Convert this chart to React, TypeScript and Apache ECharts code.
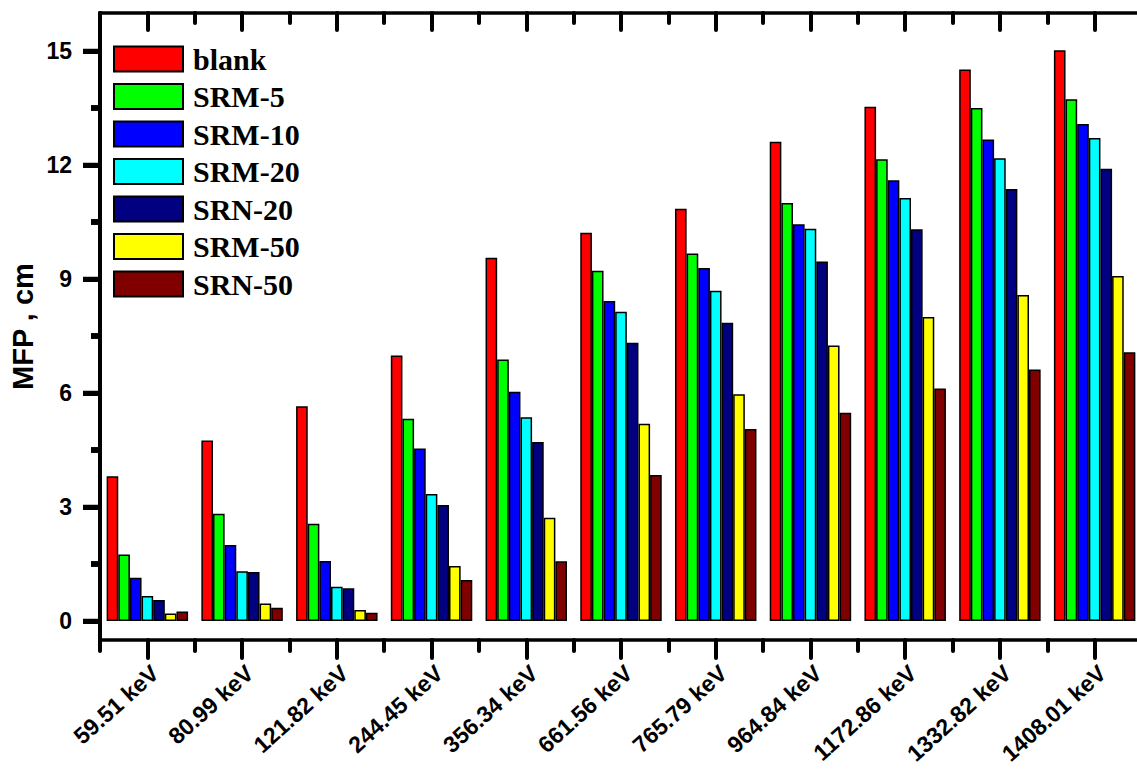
import React, { useEffect, useRef } from "react";
import * as echarts from "echarts";

const categories = [
  "59.51 keV", "80.99 keV", "121.82 keV", "244.45 keV", "356.34 keV", "661.56 keV",
  "765.79 keV", "964.84 keV", "1172.86 keV", "1332.82 keV", "1408.01 keV",
];

const seriesNames = ["blank", "SRM-5", "SRM-10", "SRM-20", "SRN-20", "SRM-50", "SRN-50"];
const seriesColors = ["#FF0000", "#00FF00", "#0000FF", "#00FFFF", "#000080", "#FFFF00", "#800000"];

const blank = [3.81, 4.75, 5.65, 6.99, 9.56, 10.22, 10.85, 12.61, 13.53, 14.51, 15.02];
const srm5 = [1.75, 2.82, 2.56, 5.32, 6.88, 9.22, 9.67, 11.0, 12.15, 13.5, 13.73];
const srm10 = [1.14, 2.0, 1.58, 4.54, 6.03, 8.42, 9.29, 10.44, 11.6, 12.67, 13.08];
const srm20 = [0.66, 1.31, 0.9, 3.34, 5.36, 8.14, 8.69, 10.32, 11.13, 12.18, 12.71];
const srn20 = [0.55, 1.29, 0.86, 3.05, 4.71, 7.32, 7.85, 9.46, 10.31, 11.37, 11.9];
const srm50 = [0.2, 0.46, 0.29, 1.45, 2.72, 5.19, 5.97, 7.25, 8.0, 8.58, 9.08];
const srn50 = [0.25, 0.35, 0.22, 1.08, 1.57, 3.84, 5.05, 5.48, 6.12, 6.62, 7.07];

const Y_MIN = -0.5;
const Y_MAX = 16;
const Y_STEP = 0.5;
const yMajorTicks = [0, 3, 6, 9, 12, 15];
const yMinorTicks = [1.5, 4.5, 7.5, 10.5, 13.5];

const seriesData = [blank, srm5, srm10, srm20, srn20, srm50, srn50];

// slots along the y range (one every Y_STEP), used only to place tick marks
const ySlots: string[] = [];
for (let v = Y_MIN; v <= Y_MAX + 1e-9; v += Y_STEP) ySlots.push(String(Math.round(v * 10) / 10));

const GRID_LEFT = 100;

export default function App() {
  const ref = useRef<HTMLDivElement>(null);
  useEffect(() => {
    if (!ref.current) return;
    const chart = echarts.init(ref.current, null, { renderer: "svg" });
    const lineStyle = () => ({ color: "#000", width: 3.5 });
    const tickStyle = () => ({ color: "#000", width: 4, cap: "round" });
    const isIn = (list: number[]) => (_i: number, val: string) => list.indexOf(Number(val)) >= 0;
    const option: any = {
      animation: false,
      backgroundColor: "#fff",
      grid: {
        left: GRID_LEFT,
        top: 13,
        width: 1042,
        height: 627,
        containLabel: false,
        outerBoundsMode: "none",
      },
      legend: {
        left: 108,
        top: 39,
        orient: "vertical",
        itemWidth: 69,
        itemHeight: 25,
        itemGap: 7.5,
        icon: "rect",
        data: seriesNames,
        textStyle: {
          fontFamily: "Liberation Serif",
          fontWeight: "bold",
          fontSize: 30,
          color: "#000",
          padding: [0, 0, 0, 5],
        },
      },
      xAxis: [
        {
          type: "category",
          data: categories,
          position: "bottom",
          axisLine: { show: true, onZero: false, lineStyle: lineStyle() },
          axisTick: { show: true, alignWithLabel: true, interval: 0, length: 18, lineStyle: tickStyle() },
          axisLabel: {
            interval: 0,
            rotate: 42,
            margin: 21,
            align: "right",
            verticalAlign: "top",
            fontFamily: "Liberation Sans",
            fontWeight: "bold",
            fontSize: 23,
            color: "#000",
          },
          splitLine: { show: false },
        },
        {
          type: "category",
          data: categories,
          position: "bottom",
          axisLine: { show: false, onZero: false },
          axisTick: { show: true, interval: 0, length: 11, lineStyle: tickStyle() },
          axisLabel: { show: false },
          splitLine: { show: false },
        },
        {
          type: "category",
          data: categories,
          position: "top",
          axisLine: { show: true, onZero: false, lineStyle: lineStyle() },
          axisTick: { show: true, inside: true, alignWithLabel: true, interval: 0, length: 17, lineStyle: tickStyle() },
          axisLabel: { show: false },
          splitLine: { show: false },
        },
        {
          type: "category",
          data: categories,
          position: "top",
          axisLine: { show: false, onZero: false },
          axisTick: { show: true, inside: true, interval: 0, length: 10, lineStyle: tickStyle() },
          axisLabel: { show: false },
          splitLine: { show: false },
        },
      ],
      yAxis: [
        {
          type: "value",
          min: Y_MIN,
          max: Y_MAX,
          position: "left",
          name: "MFP , cm",
          nameLocation: "middle",
          nameGap: 63,
          nameTextStyle: {
            fontFamily: "Liberation Sans",
            fontWeight: "bold",
            fontSize: 29,
            color: "#000",
          },
          axisLine: { show: false, onZero: false },
          axisTick: { show: true, length: 2, lineStyle: { color: "rgba(0,0,0,0)", width: 1 } },
          axisLabel: { show: false },
          splitLine: { show: false },
        },
        {
          type: "category",
          data: ySlots,
          boundaryGap: false,
          position: "left",
          axisLine: { show: true, onZero: false, lineStyle: { color: "#000", width: 4 } },
          axisTick: { show: true, length: 17, lineStyle: { color: "#000", width: 5 }, interval: isIn(yMajorTicks) },
          axisLabel: {
            interval: isIn(yMajorTicks),
            margin: 28,
            fontFamily: "Liberation Sans",
            fontWeight: "bold",
            fontSize: 23,
            color: "#000",
          },
          splitLine: { show: false },
        },
        {
          type: "category",
          data: ySlots,
          boundaryGap: false,
          position: "left",
          axisLine: { show: false, onZero: false },
          axisTick: { show: true, length: 9, lineStyle: { color: "#111", width: 6 }, interval: isIn(yMinorTicks) },
          axisLabel: { show: false },
          splitLine: { show: false },
        },
      ],
      series: seriesNames.map((name, i) => ({
        name,
        type: "bar",
        xAxisIndex: 0,
        yAxisIndex: 0,
        data: seriesData[i],
        barGap: "0%",
        barCategoryGap: "14%",
        itemStyle: { color: seriesColors[i], borderColor: "#000", borderWidth: 1.5 },
      })),
    };
    chart.setOption(option);

    // y-axis tick marks placed through the value axis' own scale
    const tickMarks: any[] = [];
    const addTicks = (values: number[], len: number) => {
      values.forEach((v) => {
        const y = chart.convertToPixel({ yAxisIndex: 0 } as any, v) as unknown as number;
        if (typeof y === "number" && isFinite(y)) {
          tickMarks.push({
            type: "line",
            z: 100,
            silent: true,
            shape: { x1: GRID_LEFT - len, y1: y, x2: GRID_LEFT, y2: y },
            style: { stroke: "#000", lineWidth: 4.5 },
          });
        }
      });
    };
    addTicks(yMajorTicks, 17);
    addTicks(yMinorTicks, 9);
    chart.setOption({ graphic: tickMarks });

    return () => chart.dispose();
  }, []);
  return (
    <div
      ref={ref}
      style={{ position: "fixed", left: 0, top: 0, width: 1137, height: 771, background: "#fff" }}
    />
  );
}
